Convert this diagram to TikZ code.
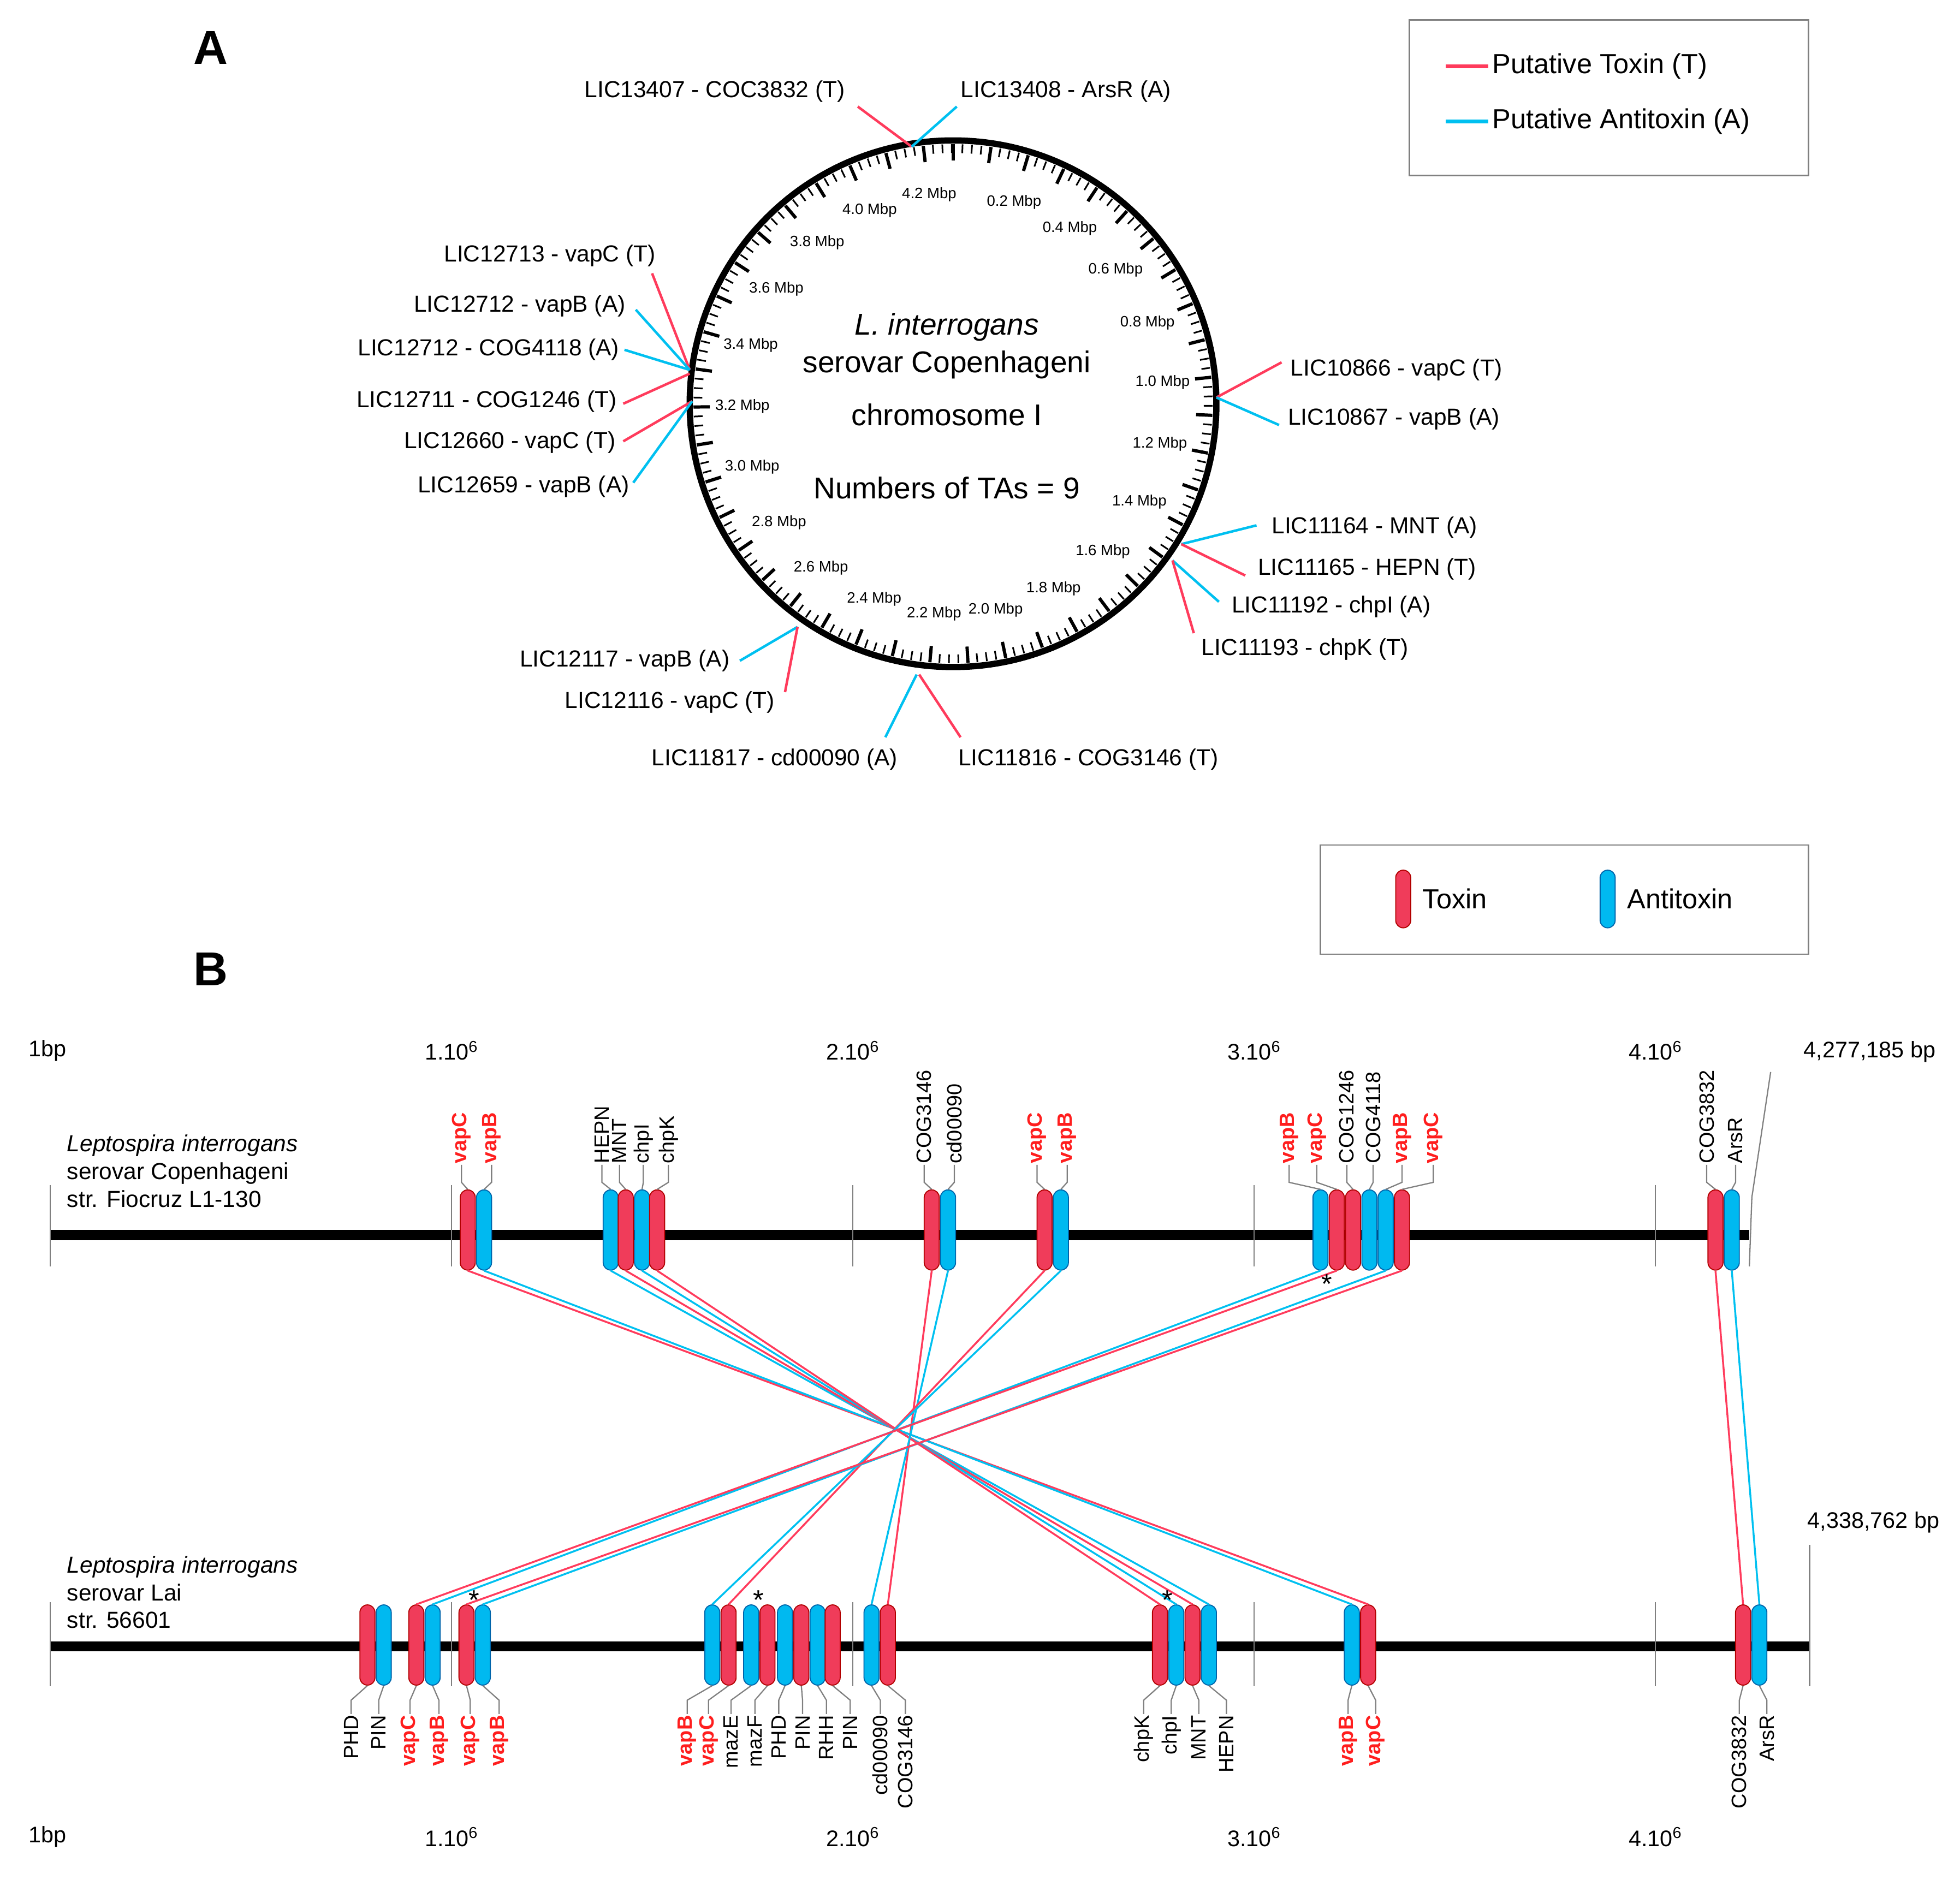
\documentclass[tikz,border=0pt]{standalone}
\usepackage{fontspec}
\setmainfont{Liberation Sans}
\usetikzlibrary{calc}
\begin{document}
\begin{tikzpicture}[x=1pt,y=-1pt,
  tc/.style={draw=red!70!black,fill=TX,line width=0.8pt,rounded corners=6pt,minimum width=12pt,minimum height=64pt,inner sep=0pt},
  tox/.style={tc},
  anti/.style={tc,draw=AXd,fill=AX},
  lk/.style={font=\fontsize{16.5}{16}\selectfont,inner sep=1pt},
  lr/.style={lk,text=LR,font=\fontsize{16.5}{16}\selectfont\bfseries},
  gl/.style={font=\fontsize{18.5}{18.5}\selectfont,inner sep=1pt},
  lead/.style={draw=gray,line width=1pt},
  cred/.style={draw=CR,line width=1.5pt},
  cblue/.style={draw=CB,line width=1.5pt},
  bar/.style={line width=8pt,black},
  tick/.style={draw=gray,line width=1pt},
  sc/.style={font=\fontsize{18}{18}\selectfont},
  gn/.style={font=\fontsize{18.5}{22}\selectfont,anchor=west,align=left}]
\definecolor{TX}{RGB}{240,60,90}
\definecolor{AX}{RGB}{0,185,240}
\definecolor{AXd}{RGB}{0,100,170}
\definecolor{LR}{RGB}{255,30,30}
\definecolor{CR}{RGB}{255,59,92}
\definecolor{CB}{RGB}{0,192,240}
\useasboundingbox (0,0) rectangle (1563,1499);
% ---------- Part A ----------
\node[font=\fontsize{38}{38}\selectfont\bfseries] (A) at (168,38) {A};
\node[font=\fontsize{38}{38}\selectfont\bfseries] (B) at (168,773) {B};
\coordinate (C) at (760,322);
\draw[line width=5pt] (C) circle (210);
\foreach \i in {0,...,171}{
  \pgfmathsetmacro{\ang}{\i*0.025/4.277185*360-90}
  \pgfmathparse{mod(\i,4)==0?1:0}
  \ifnum\pgfmathresult=1
    \draw[line width=2.6pt] ($(C)+(\ang:207)$) -- ($(C)+(\ang:194)$);
  \else
    \draw[line width=1.3pt] ($(C)+(\ang:207)$) -- ($(C)+(\ang:200)$);
  \fi}
\foreach \m in {0.2,0.4,0.6,0.8,1.0,1.2,1.4,1.6,1.8,2.0,2.2,2.4,2.6,2.8,3.0,3.2,3.4,3.6,3.8,4.0,4.2}{
  \pgfmathsetmacro{\ang}{\m/4.277185*360-90}
  \node[font=\fontsize{12}{12}\selectfont] at ($(C)+(\ang:168)$) {\m\ Mbp};}
\node[font=\fontsize{24}{24}\selectfont\itshape] (t1) at (755,261) {L. interrogans};
\node[font=\fontsize{24}{24}\selectfont] (t2) at (755,291) {serovar Copenhageni};
\node[font=\fontsize{24}{24}\selectfont] (t3) at (755,331) {chromosome I};
\node[font=\fontsize{24}{24}\selectfont] (t4) at (755,389) {Numbers of TAs = 9};
% circle gene marks
\foreach \sx/\sy/\ex/\ey/\col/\anc/\lx/\ly/\txt/\n in {
 727/117/684/85/cred/east/675/73/{LIC13407 - COC3832 (T)}/a1,
 727/117/763/85/cblue/west/765/73/{LIC13408 - ArsR (A)}/a2,
 550/295/520/218/cred/east/524/204/{LIC12713 - vapC (T)}/a3,
 550/295/507/247/cblue/east/500/244/{LIC12712 - vapB (A)}/a4,
 550/295/498/279/cblue/east/495/279/{LIC12712 - COG4118 (A)}/a5,
 550/298/497/322/cred/east/493/320/{LIC12711 - COG1246 (T)}/a6,
 552/320/497/352/cred/east/492/353/{LIC12660 - vapC (T)}/a7,
 552/320/505/385/cblue/east/503/388/{LIC12659 - vapB (A)}/a8,
 970/317/1022/289/cred/west/1028/295/{LIC10866 - vapC (T)}/a9,
 970/317/1020/339/cblue/west/1026/334/{LIC10867 - vapB (A)}/a10,
 942/434/1002/419/cblue/west/1013/421/{LIC11164 - MNT (A)}/a11,
 942/434/993/459/cred/west/1002/454/{LIC11165 - HEPN (T)}/a12,
 935/447/972/480/cblue/west/981/484/{LIC11192 - chpI (A)}/a13,
 935/447/952/505/cred/west/957/518/{LIC11193 - chpK (T)}/a14,
 636/500/590/527/cblue/east/583/527/{LIC12117 - vapB (A)}/a15,
 636/500/626/552/cred/east/619/560/{LIC12116 - vapC (T)}/a16,
 731/538/706/588/cblue/east/717/606/{LIC11817 - cd00090 (A)}/a17,
 733/538/766/588/cred/west/763/606/{LIC11816 - COG3146 (T)}/a18}{
  \coordinate (\n s) at (\sx,\sy);
  \coordinate (\n e) at (\ex,\ey);
  \draw[\col,line width=2pt] (\n s) -- (\n e);
  \node[gl,anchor=\anc] (\n) at (\lx,\ly) {\txt};}
% legend A
\draw[gray,line width=1.2pt] (1124,16) rectangle (1442,140);
\coordinate (la1) at (1153,53); \coordinate (la2) at (1187,53);
\coordinate (lb1) at (1153,97); \coordinate (lb2) at (1187,97);
\draw[CR,line width=3pt] (la1) -- (la2);
\draw[CB,line width=3pt] (lb1) -- (lb2);
\node[anchor=west,font=\fontsize{22}{22}\selectfont,inner sep=1pt] (lt) at (1189,53) {Putative Toxin (T)};
\node[anchor=west,font=\fontsize{22}{22}\selectfont,inner sep=1pt] (la) at (1189,97) {Putative Antitoxin (A)};
% ---------- Part B ----------
\draw[gray,line width=1.2pt] (1053,674) rectangle (1442,761);
\node[tox,minimum height=46pt] (kt) at (1119,717) {};
\node[anchor=west,font=\fontsize{22}{22}\selectfont] (ktl) at (1131,717) {Toxin};
\node[anti,minimum height=46pt] (ka) at (1282,717) {};
\node[anchor=west,font=\fontsize{22}{22}\selectfont] (kal) at (1294,717) {Antitoxin};
% bars
\draw[bar] (40,985) -- (1395,985);
\draw[bar] (40,1313) -- (1443,1313);
\foreach \x in {40,360,680,1000,1320}{
  \draw[tick] (\x,945) -- (\x,1010);
  \draw[tick] (\x,1278) -- (\x,1345);}
\draw[tick] (1395,1010) -- (1397,955) -- (1412,855);
\draw[tick] (1443,1345) -- (1443,1232);
\node[sc,anchor=east] at (1547,839) {4,277,185 bp};
\node[sc,anchor=east] at (1550,1214) {4,338,762 bp};
\foreach \y in {838,1465}{
  \node[sc] at (38,\y) {1bp};
  \node[sc] at (360,\y) {1.10\textsuperscript{6}};
  \node[sc] at (680,\y) {2.10\textsuperscript{6}};
  \node[sc] at (1000,\y) {3.10\textsuperscript{6}};
  \node[sc] at (1320,\y) {4.10\textsuperscript{6}};}
\node[gn] (g1) at (50,934) {\textit{Leptospira interrogans}\\serovar Copenhageni\\str. Fiocruz L1-130};
\node[gn] (g2) at (50,1270) {\textit{Leptospira interrogans}\\serovar Lai\\str. 56601};
% top genes
\foreach \x/\c/\lab/\lx/\ls/\n in {
 373/tox/vapC/368/lr/tA, 386/anti/vapB/392/lr/tB, 487/anti/HEPN/480/lk/tC, 499/tox/MNT/494/lk/tD,
 512/anti/chpI/513/lk/tE, 524/tox/chpK/533/lk/tF, 743/tox/COG3146/737/lk/tG, 756/anti/cd00090/761/lk/tH,
 833/tox/vapC/827/lr/tI, 846/anti/vapB/851/lr/tJ, 1053/anti/vapB/1028/lr/tK, 1066/tox/vapC/1050/lr/tL,
 1079/tox/COG1246/1074/lk/tM, 1092/anti/COG4118/1095/lk/tN, 1105/anti/vapB/1118/lr/tO, 1118/tox/vapC/1143/lr/tP,
 1368/tox/COG3832/1361/lk/tQ, 1381/anti/ArsR/1384/lk/tR}{
  \node[\c] (\n) at (\x,981) {};
  \node[\ls,rotate=90,anchor=west] (\n l) at (\lx,929) {\lab};
  \draw[lead] (\n l.west) -- (\lx,943) -- (\n.north);}
% bottom genes
\foreach \x/\c/\lab/\lx/\ls/\n in {
 293/tox/PHD/280/lk/bA, 306/anti/PIN/302/lk/bB, 332/tox/vapC/327/lr/bC, 345/anti/vapB/350/lr/bD,
 372/tox/vapC/375/lr/bE, 385/anti/vapB/398/lr/bF, 568/anti/vapB/548/lr/bG, 581/tox/vapC/565/lr/bH,
 599/anti/mazE/583/lk/bI, 612/tox/mazF/602/lk/bJ, 626/anti/PHD/621/lk/bK, 639/tox/PIN/640/lk/bL,
 652/anti/RHH/659/lk/bM, 664/tox/PIN/678/lk/bN, 695/anti/cd00090/702/lk/bO, 708/tox/COG3146/722/lk/bP,
 925/tox/chpK/912/lk/bQ, 938/anti/chpI/934/lk/bR, 951/tox/MNT/956/lk/bS, 964/anti/HEPN/978/lk/bT,
 1078/anti/vapB/1075/lr/bU, 1091/tox/vapC/1097/lr/bV, 1390/tox/COG3832/1387/lk/bW, 1403/anti/ArsR/1409/lk/bX}{
  \node[\c] (\n) at (\x,1312) {};
  \node[\ls,rotate=90,anchor=east] (\n l) at (\lx,1367) {\lab};
  \draw[lead] (\n.south) -- (\lx,1356) -- (\n l.east);}
% connectors
\foreach \a/\b/\s in {tA/bV/cred, tB/bU/cblue, tC/bT/cblue, tD/bS/cred, tE/bR/cblue, tF/bQ/cred,
 tG/bP/cred, tH/bO/cblue, tI/bH/cred, tJ/bG/cblue, tK/bD/cblue, tL/bC/cred, tO/bF/cblue, tP/bE/cred,
 tQ/bW/cred, tR/bX/cblue}{
  \draw[\s] (\a.south) -- (\b.north);}
% asterisks
\foreach \x/\y/\n in {378/1276/s1, 605/1276/s2, 931/1276/s3, 1058/1024/s4}{
  \node[font=\fontsize{22}{22}\selectfont,inner sep=0pt] (\n) at (\x,\y) {*};}
\end{tikzpicture}
\end{document}
